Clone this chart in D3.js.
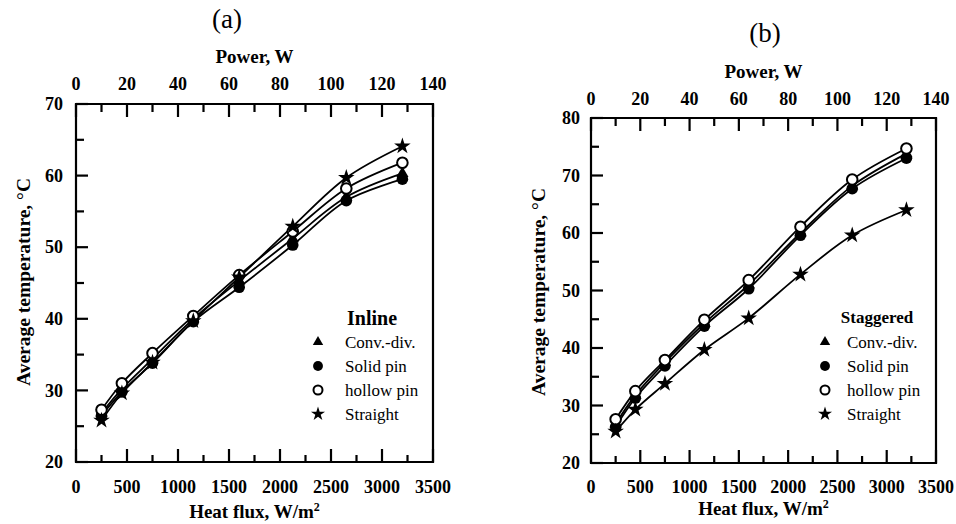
<!DOCTYPE html>
<html>
<head>
<meta charset="utf-8">
<script src="https://cdn.jsdelivr.net/npm/d3@7"></script>
<style>
  body { margin: 0; background: #fff; }
  svg { display: block; }
</style>
</head>
<body>
<svg id="chart" width="956" height="524"></svg>
<script>
// heat flux at each test point, W/m2
const flux = [250, 450, 750, 1150, 1600, 2125, 2650, 3200];

// (a) inline arrangement, average temperature in C
const inlineConv     = [26.8, 30.2, 34.4, 40.0, 45.3, 51.2, 57.0, 60.3];
const inlineSolid    = [26.5, 29.8, 33.8, 39.6, 44.4, 50.3, 56.5, 59.5];
const inlineHollow   = [27.3, 31.0, 35.2, 40.4, 46.1, 52.2, 58.2, 61.8];
const inlineStraight = [25.8, 29.6, 33.9, 39.7, 45.8, 52.9, 59.7, 64.1];

// (b) staggered arrangement
const stagConv     = [26.8, 31.8, 37.5, 44.3, 51.0, 60.0, 68.2, 73.8];
const stagSolid    = [26.3, 31.3, 36.9, 43.8, 50.3, 59.6, 67.7, 73.0];
const stagHollow   = [27.6, 32.5, 37.9, 44.9, 51.8, 61.1, 69.3, 74.7];
const stagStraight = [25.5, 29.3, 33.8, 39.7, 45.2, 52.8, 59.6, 64.0];

const seriesNames = ["Conv.-div.", "Solid pin", "hollow pin", "Straight"];
const markerKinds = ["triangle", "solid", "hollow", "star"];

const fluxMajor = [0, 500, 1000, 1500, 2000, 2500, 3000, 3500];
const fluxMinor = [250, 750, 1250, 1750, 2250, 2750, 3250];
const powerMajor = [0, 20, 40, 60, 80, 100, 120, 140];
const powerMinor = [10, 30, 50, 70, 90, 110, 130];
const tempMajorA = [20, 30, 40, 50, 60, 70];
const tempMinorA = [25, 35, 45, 55, 65];
const tempMajorB = [20, 30, 40, 50, 60, 70, 80];
const tempMinorB = [25, 35, 45, 55, 65, 75];

const serif = "'Liberation Serif', 'Times New Roman', serif";
const svg = d3.select("#chart");

function boldText(sel, size) {
  return sel.style("font-family", serif).style("font-size", size)
    .style("font-weight", "bold").attr("fill", "#000");
}

function marker(g, kind, cx, cy, s) {
  if (kind === "solid") {
    g.append("circle").attr("cx", cx).attr("cy", cy).attr("r", 5.8 * s).attr("fill", "#000");
  } else if (kind === "hollow") {
    g.append("circle").attr("cx", cx).attr("cy", cy).attr("r", 5.3 * s)
      .attr("fill", "#fff").attr("stroke", "#000").attr("stroke-width", 2);
  } else {
    const sym = kind === "star" ? d3.symbolStar : d3.symbolTriangle;
    g.append("path")
      .attr("d", d3.symbol().type(sym).size((kind === "star" ? 85 : 65) * s * s)())
      .attr("transform", `translate(${cx},${cy})`)
      .attr("fill", "#000");
  }
}

// inward tick marks as small filled rects placed by the scale
function tickMarks(g, scale, values, len, side, at) {
  const r = g.append("g").selectAll("rect").data(values).join("rect").attr("fill", "#000");
  if (side === "bottom") r.attr("x", d => scale(d) - 1.1).attr("y", at - len).attr("width", 2.2).attr("height", len);
  if (side === "top") r.attr("x", d => scale(d) - 1.1).attr("y", at).attr("width", 2.2).attr("height", len);
  if (side === "left") r.attr("x", at).attr("y", d => scale(d) - 1.1).attr("width", len).attr("height", 2.2);
}

function labels(g, scale, values, side, at, pad) {
  const t = g.append("g").selectAll("text").data(values).join("text")
    .call(boldText, "18px")
    .text(d => d3.format("d")(d));
  if (side === "bottom") t.attr("x", d => scale(d)).attr("y", at + pad).attr("text-anchor", "middle");
  if (side === "top") t.attr("x", d => scale(d)).attr("y", at - pad).attr("text-anchor", "middle");
  if (side === "left") t.attr("y", d => scale(d)).attr("x", at - pad).attr("dy", "0.34em").attr("text-anchor", "end");
}

function drawPanel(cfg) {
  const x = d3.scaleLinear().domain([0, 3500]).range([cfg.left, cfg.right]);
  const xp = d3.scaleLinear().domain([0, 140]).range([cfg.left, cfg.right]);
  const y = d3.scaleLinear().domain(cfg.yDomain).range([cfg.bottom, cfg.top]);

  const g = svg.append("g");

  g.append("path")
    .attr("d", `M${cfg.left},${cfg.top}H${cfg.right}V${cfg.bottom}H${cfg.left}Z`)
    .attr("fill", "none").attr("stroke", "#000").attr("stroke-width", 2.2);

  tickMarks(g, x, fluxMinor, 7, "bottom", cfg.bottom);
  tickMarks(g, x, fluxMajor, 13, "bottom", cfg.bottom);
  tickMarks(g, xp, powerMinor, 8, "top", cfg.top);
  tickMarks(g, xp, powerMajor, 13, "top", cfg.top);
  tickMarks(g, y, cfg.minorY, 8, "left", cfg.left);
  tickMarks(g, y, cfg.majorY, 12, "left", cfg.left);

  labels(g, x, fluxMajor, "bottom", cfg.bottom, cfg.padBottom);
  labels(g, xp, powerMajor, "top", cfg.top, cfg.padTop);
  labels(g, y, cfg.majorY, "left", cfg.left, cfg.padLeft);

  const line = d3.line()
    .x((d, i) => x(flux[i]))
    .y(d => y(d))
    .curve(d3.curveCatmullRom);

  cfg.series.forEach(s => {
    g.append("path").datum(s).attr("d", line)
      .attr("fill", "none").attr("stroke", "#000").attr("stroke-width", 1.8);
  });

  cfg.series.forEach((s, k) => {
    s.forEach((v, i) => marker(g, markerKinds[k], x(flux[i]), y(v), 1));
  });

  g.append("text").attr("x", cfg.tagX).attr("y", cfg.tagY)
    .attr("text-anchor", "middle")
    .style("font-family", serif).style("font-size", "27px")
    .text(cfg.tag);

  g.append("text").attr("x", (cfg.left + cfg.right) / 2).attr("y", cfg.powerY)
    .attr("text-anchor", "middle")
    .call(boldText, "19px")
    .text("Power, W");

  const hf = g.append("text").attr("x", (cfg.left + cfg.right) / 2).attr("y", cfg.fluxY)
    .attr("text-anchor", "middle")
    .call(boldText, "19px");
  hf.append("tspan").text("Heat flux, W/m");
  hf.append("tspan").attr("dy", -7).style("font-size", "12px").text("2");

  g.append("text")
    .attr("transform", `translate(${cfg.yLabelX},${cfg.yLabelY}) rotate(-90)`)
    .attr("text-anchor", "middle")
    .call(boldText, "19.5px")
    .text("Average temperature, \u00B0C");

  // legend
  const lg = g.append("g");
  lg.append("text").attr("x", cfg.legTitleX).attr("y", cfg.legTitleY)
    .attr("text-anchor", "middle")
    .call(boldText, cfg.legTitleSize)
    .text(cfg.legTitle);
  seriesNames.forEach((name, k) => {
    const cy = cfg.legY0 + k * 24;
    marker(lg, markerKinds[k], cfg.legSymX, cy, 0.85);
    lg.append("text").attr("x", cfg.legTextX).attr("y", cy + 5.5)
      .style("font-family", serif).style("font-size", "17px")
      .text(name);
  });
}

drawPanel({
  left: 76, right: 433, top: 104, bottom: 462,
  yDomain: [20, 70], majorY: tempMajorA, minorY: tempMinorA,
  padBottom: 31, padTop: 14, padLeft: 13,
  series: [inlineConv, inlineSolid, inlineHollow, inlineStraight],
  tag: "(a)", tagX: 227, tagY: 28,
  powerY: 63, fluxY: 518, yLabelX: 30, yLabelY: 282,
  legTitle: "Inline", legTitleSize: "20px", legTitleX: 372, legTitleY: 325,
  legSymX: 318, legTextX: 345, legY0: 342
});

drawPanel({
  left: 591, right: 936, top: 118, bottom: 463,
  yDomain: [20, 80], majorY: tempMajorB, minorY: tempMinorB,
  padBottom: 30, padTop: 13, padLeft: 11,
  series: [stagConv, stagSolid, stagHollow, stagStraight],
  tag: "(b)", tagX: 765, tagY: 42,
  powerY: 78, fluxY: 515, yLabelX: 545, yLabelY: 292,
  legTitle: "Staggered", legTitleSize: "17px", legTitleX: 877, legTitleY: 323,
  legSymX: 825, legTextX: 847, legY0: 342
});
</script>
</body>
</html>
